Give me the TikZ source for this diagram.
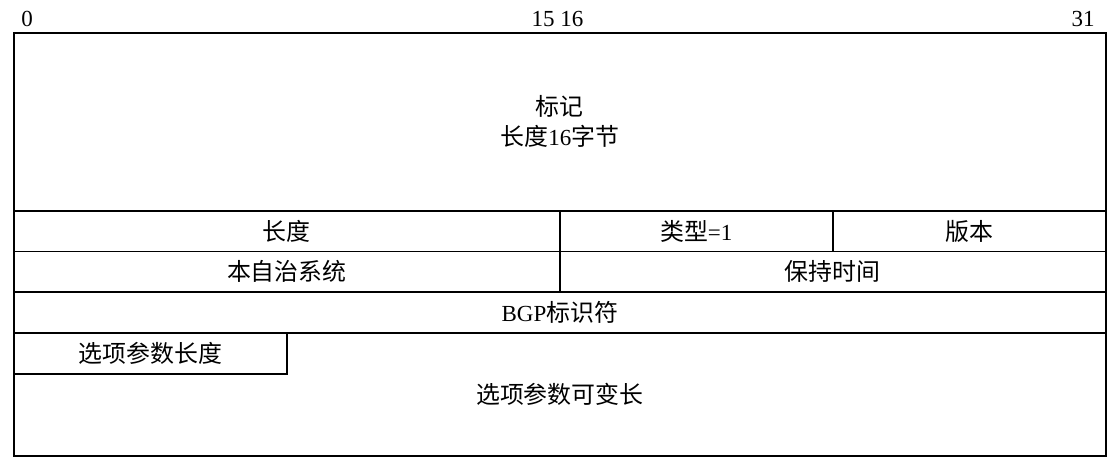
\documentclass[tikz,border=0pt]{standalone}
\usepackage{fontspec}
\setmainfont{Liberation Serif}
\newfontfamily\cjk{Noto Sans CJK SC}[Scale=1.04]
\begin{document}
\begin{tikzpicture}[x=1pt,y=-1pt,
  cell/.style={draw=black,line width=1.6pt,inner sep=0pt,anchor=north west,font=\fontsize{23}{30}\selectfont,align=center},
  bitnum/.style={anchor=base,inner sep=0pt,font=\fontsize{23}{28}\selectfont}]
\useasboundingbox (0,0) rectangle (1115,462);
\node[cell,minimum width=1092pt,minimum height=178pt] (tag) at (13,32) {{\cjk 标记}\\{\cjk 长度}16{\cjk 字节}};
\node[cell,minimum width=546pt,minimum height=40.5pt] (len) at (13,210) {\cjk 长度};
\node[cell,minimum width=273pt,minimum height=40.5pt] (type) at (559,210) {{\cjk 类型}=1};
\node[cell,minimum width=273pt,minimum height=40.5pt] (ver) at (832,210) {\cjk 版本};
\node[cell,minimum width=546pt,minimum height=40.5pt] (as) at (13,250.5) {\cjk 本自治系统};
\node[cell,minimum width=546pt,minimum height=40.5pt] (hold) at (559,250.5) {\cjk 保持时间};
\node[cell,minimum width=1092pt,minimum height=41pt] (bgp) at (13,291) {BGP{\cjk 标识符}};
\node[cell,minimum width=1092pt,minimum height=123pt] (opt) at (13,332) {\cjk 选项参数可变长};
\node[cell,minimum width=273pt,minimum height=41pt] (optlen) at (13,332) {\cjk 选项参数长度};
\node[bitnum] (b0) at (27,27) {0};
\node[bitnum] (b15) at (557.5,27) {15 16};
\node[bitnum] (b31) at (1083,27) {31};
\end{tikzpicture}
\end{document}
